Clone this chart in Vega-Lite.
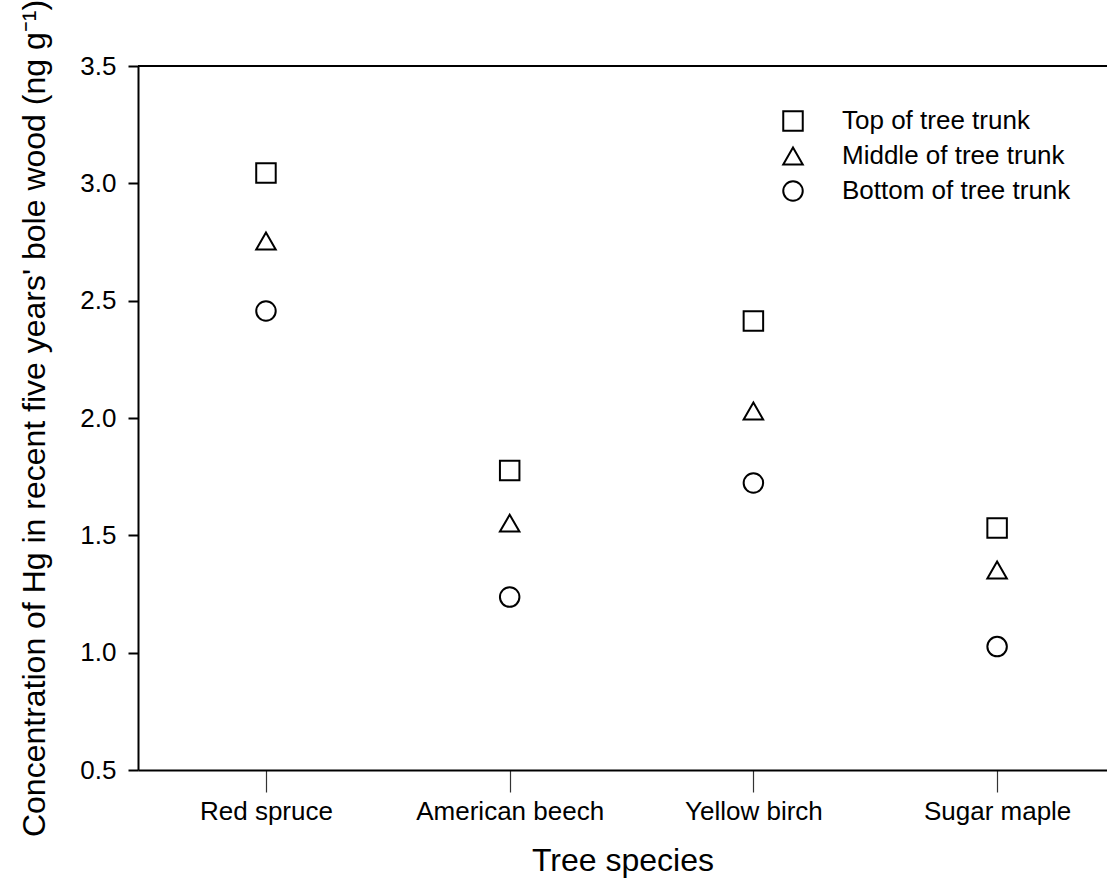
{
  "$schema": "https://vega.github.io/schema/vega-lite/v6.json",
  "autosize": {"type": "none"},
  "padding": {"left": 138, "top": 66, "right": 0, "bottom": 112},
  "width": 969,
  "height": 704,
  "background": "white",
  "config": {
    "view": {"stroke": null},
    "font": "Liberation Sans"
  },
  "data": {
    "values": [
      {"species": "Red spruce", "position": "Top of tree trunk", "hg": 3.044},
      {"species": "Red spruce", "position": "Middle of tree trunk", "hg": 2.754},
      {"species": "Red spruce", "position": "Bottom of tree trunk", "hg": 2.456},
      {"species": "American beech", "position": "Top of tree trunk", "hg": 1.776},
      {"species": "American beech", "position": "Middle of tree trunk", "hg": 1.552},
      {"species": "American beech", "position": "Bottom of tree trunk", "hg": 1.237},
      {"species": "Yellow birch", "position": "Top of tree trunk", "hg": 2.413},
      {"species": "Yellow birch", "position": "Middle of tree trunk", "hg": 2.03},
      {"species": "Yellow birch", "position": "Bottom of tree trunk", "hg": 1.723},
      {"species": "Sugar maple", "position": "Top of tree trunk", "hg": 1.531},
      {"species": "Sugar maple", "position": "Middle of tree trunk", "hg": 1.352},
      {"species": "Sugar maple", "position": "Bottom of tree trunk", "hg": 1.026}
    ]
  },
  "layer": [
    {
      "mark": {"type": "rule", "color": "black", "strokeWidth": 2},
      "encoding": {"y": {"datum": 3.5, "type": "quantitative"}}
    },
    {
      "mark": {"type": "point", "filled": false, "color": "black", "strokeWidth": 2, "size": 380, "opacity": 1},
      "encoding": {
        "x": {
          "field": "species",
          "type": "nominal",
          "sort": ["Red spruce", "American beech", "Yellow birch", "Sugar maple"],
          "scale": {"type": "point", "padding": 0.488, "align": 0.538},
          "axis": {
            "title": "Tree species",
            "titleFontSize": 32,
            "titleFontWeight": "normal",
            "titleColor": "black",
            "titlePadding": 21,
            "labelFontSize": 26,
            "labelColor": "black",
            "labelPadding": 6,
            "labelAngle": 0,
            "labelLimit": 400,
            "domainColor": "black",
            "domainWidth": 2,
            "tickColor": "#333333",
            "tickWidth": 1.2,
            "tickSize": 22,
            "grid": false
          }
        },
        "y": {
          "field": "hg",
          "type": "quantitative",
          "scale": {"domain": [0.5, 3.5], "zero": false, "nice": false},
          "axis": {
            "title": "Concentration of Hg in recent five years' bole wood (ng g⁻¹)",
            "titleFontSize": 32,
            "titleFontWeight": "normal",
            "titleColor": "black",
            "titlePadding": 28,
            "labelFontSize": 26,
            "labelColor": "black",
            "labelPadding": 12,
            "format": ".1f",
            "values": [0.5, 1.0, 1.5, 2.0, 2.5, 3.0, 3.5],
            "domainColor": "black",
            "domainWidth": 2,
            "tickColor": "black",
            "tickWidth": 2,
            "tickSize": 10,
            "grid": false
          }
        },
        "shape": {
          "field": "position",
          "type": "nominal",
          "scale": {
            "domain": ["Top of tree trunk", "Middle of tree trunk", "Bottom of tree trunk"],
            "range": ["square", "triangle-up", "circle"]
          },
          "legend": {
            "title": null,
            "orient": "none",
            "legendX": 642,
            "legendY": 42,
            "padding": 0,
            "symbolSize": 380,
            "symbolStrokeColor": "black",
            "symbolStrokeWidth": 2,
            "symbolFillColor": "transparent",
            "symbolType": "circle",
            "labelFontSize": 26,
            "labelColor": "black",
            "labelOffset": 36,
            "rowPadding": 8,
            "labelLimit": 400
          }
        }
      }
    }
  ]
}
